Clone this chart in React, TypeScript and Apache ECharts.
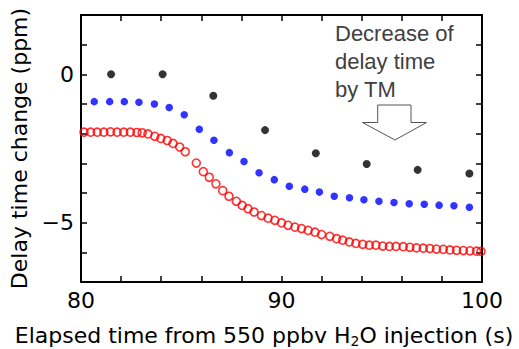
import React, { useEffect, useRef } from "react";
import * as echarts from "echarts";

const xTickLabels = [80, 90, 100];
const yTickLabels = [0, -5];

const blackX = [81.5, 84.07, 86.6, 89.18, 91.71, 94.25, 96.79, 99.37];
const blackY = [0.0, 0.0, -0.72, -1.88, -2.66, -3.02, -3.22, -3.34];

const blueX = [80.66, 81.43, 82.16, 82.89, 83.66, 84.4, 85.15, 85.9, 86.63, 87.4, 88.13, 88.88, 89.64, 90.39, 91.16, 91.89, 92.63, 93.39, 94.11, 94.86, 95.61, 96.37, 97.12, 97.86, 98.6, 99.37];
const blueY = [-0.92, -0.92, -0.92, -0.94, -1.0, -1.12, -1.36, -1.85, -2.22, -2.64, -2.94, -3.32, -3.55, -3.77, -3.87, -3.97, -4.11, -4.16, -4.23, -4.28, -4.32, -4.36, -4.38, -4.41, -4.43, -4.48];

const redX = [80.15, 80.48, 80.81, 81.14, 81.47, 81.8, 82.13, 82.46, 82.79, 83.05, 83.34, 83.68, 83.98, 84.3, 84.59, 84.92, 85.2, 85.75, 86.1, 86.4, 86.73, 87.07, 87.38, 87.75, 88.04, 88.33, 88.63, 89.0, 89.33, 89.67, 90.0, 90.33, 90.67, 91.0, 91.33, 91.67, 92.0, 92.41, 92.75, 93.05, 93.38, 93.71, 94.05, 94.38, 94.71, 95.05, 95.38, 95.71, 96.07, 96.4, 96.73, 97.07, 97.4, 97.73, 98.07, 98.4, 98.73, 99.07, 99.4, 99.73, 99.95];
const redY = [-1.95, -1.95, -1.95, -1.95, -1.94, -1.95, -1.95, -1.95, -1.96, -1.97, -2.01, -2.09, -2.16, -2.23, -2.33, -2.45, -2.61, -2.99, -3.28, -3.47, -3.69, -3.92, -4.11, -4.28, -4.42, -4.53, -4.64, -4.76, -4.85, -4.92, -5.01, -5.09, -5.15, -5.2, -5.26, -5.32, -5.4, -5.46, -5.54, -5.59, -5.65, -5.7, -5.73, -5.76, -5.76, -5.79, -5.8, -5.8, -5.81, -5.83, -5.85, -5.86, -5.87, -5.89, -5.9, -5.92, -5.93, -5.94, -5.95, -5.96, -5.97];

const annotationLines = ["Decrease of", "delay time", "by TM"];
const xTitle = "Elapsed time from 550 ppbv H{sub|2}O injection (s)";
const yTitle = "Delay time change (ppm)";

const FONT = "DejaVu Sans";

export default function App() {
  const ref = useRef<HTMLDivElement>(null);
  useEffect(() => {
    if (!ref.current) return;
    const chart = echarts.init(ref.current, undefined, { renderer: "svg" });
    const pairs = (xs: number[], ys: number[]) => xs.map((x, i) => [x, ys[i]]);
    const axisLine = { show: true, onZero: false, lineStyle: { color: "#000", width: 2 } };
    const axisTick = { show: true, inside: true, length: 6, lineStyle: { color: "#000", width: 1.5 } };
    chart.setOption({
      animation: false,
      backgroundColor: "#fff",
      grid: { left: 81, right: 37, top: 15, bottom: 67, containLabel: false, outerBoundsMode: "none" },
      xAxis: [
        {
          type: "value",
          min: 80,
          max: 100,
          interval: 2,
          position: "bottom",
          axisLine,
          axisTick,
          splitLine: { show: false },
          axisLabel: {
            margin: 7,
            fontFamily: FONT,
            fontSize: 22,
            color: "#000",
            formatter: (v: number) => (xTickLabels.includes(v) ? String(v) : ""),
          },
        },
        {
          type: "value",
          min: 80,
          max: 100,
          interval: 2,
          position: "top",
          axisLine,
          axisTick,
          splitLine: { show: false },
          axisLabel: { show: false },
        },
      ],
      yAxis: [
        {
          type: "value",
          min: -7,
          max: 2,
          interval: 1,
          position: "left",
          axisLine,
          axisTick,
          splitLine: { show: false },
          axisLabel: {
            margin: 7,
            fontFamily: FONT,
            fontSize: 22,
            color: "#000",
            formatter: (v: number) =>
              yTickLabels.includes(v) ? String(v).replace("-", "\u2212") : "",
          },
          name: yTitle,
          nameLocation: "middle",
          nameGap: 44,
          nameTextStyle: { fontFamily: FONT, fontSize: 22, color: "#000" },
        },
        {
          type: "value",
          min: -7,
          max: 2,
          interval: 1,
          position: "right",
          axisLine,
          axisTick,
          splitLine: { show: false },
          axisLabel: { show: false },
        },
      ],
      graphic: [
        {
          type: "text",
          x: 264,
          y: 335,
          style: {
            text: xTitle,
            fontFamily: FONT,
            fontSize: 22,
            fill: "#000",
            align: "center",
            verticalAlign: "middle",
            rich: {
              sub: { fontFamily: FONT, fontSize: 14, fill: "#000", padding: [12, 0, 0, 0] },
            },
          },
        },
        {
          type: "text",
          left: 335,
          top: 19,
          style: {
            text: annotationLines.join("\n"),
            fontFamily: "Liberation Sans",
            fontSize: 22,
            lineHeight: 28,
            fill: "#404040",
          },
        },
        {
          type: "polygon",
          shape: {
            points: [
              [377.7, 105],
              [411, 105],
              [411, 122.5],
              [426.5, 122.5],
              [395, 140],
              [362.5, 122.5],
              [377.7, 122.5],
            ],
          },
          style: { fill: "#fff", stroke: "#555", lineWidth: 1 },
        },
      ],
      series: [
        {
          type: "scatter",
          data: pairs(redX, redY),
          symbol: "circle",
          symbolSize: 8,
          itemStyle: { color: "rgba(0,0,0,0)", borderColor: "#ff0000", borderWidth: 1.6 },
        },
        {
          type: "scatter",
          data: pairs(blueX, blueY),
          symbol: "circle",
          symbolSize: 7.5,
          itemStyle: { color: "#0000ff" },
        },
        {
          type: "scatter",
          data: pairs(blackX, blackY),
          symbol: "circle",
          symbolSize: 8,
          itemStyle: { color: "#000" },
        },
      ],
    });
    return () => chart.dispose();
  }, []);
  return <div ref={ref} style={{ width: 519, height: 349, position: "absolute", left: 0, top: 0 }} />;
}
